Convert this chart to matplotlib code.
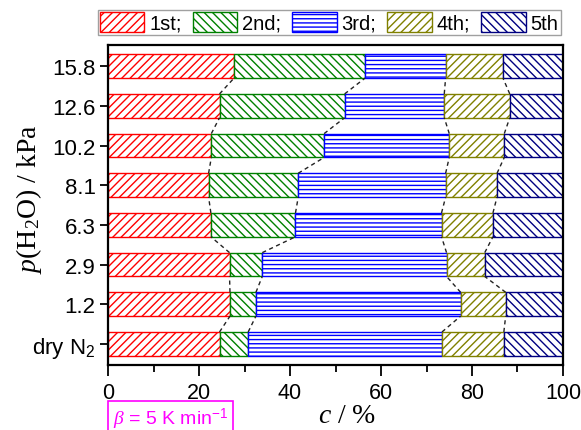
import matplotlib
matplotlib.use("Agg")
import matplotlib.pyplot as plt
import numpy as np

plt.rcParams['font.family'] = ['Liberation Sans', 'DejaVu Sans']
plt.rcParams['mathtext.fontset'] = 'custom'
plt.rcParams['mathtext.rm'] = 'Liberation Serif'
plt.rcParams['mathtext.it'] = 'Liberation Serif:italic'
plt.rcParams['mathtext.sf'] = 'Liberation Sans'
plt.rcParams['hatch.linewidth'] = 1.0

# Water vapour partial pressures (bottom to top)
pressures = ['dry N$_\\mathsf{2}$', '1.2', '2.9', '6.3', '8.1', '10.2', '12.6', '15.8']

# Share of each step (%) per condition, bottom to top
step1 = [24.5, 26.8, 26.7, 22.6, 22.1, 22.7, 24.5, 27.7]
step2 = [6.3, 5.7, 7.2, 18.6, 19.7, 24.8, 27.5, 28.8]
step3 = [42.6, 45.0, 40.5, 32.1, 32.4, 27.5, 21.9, 17.7]
step4 = [13.6, 9.9, 8.4, 11.3, 11.3, 12.1, 14.4, 12.6]
step5 = [13.0, 12.6, 17.2, 15.4, 14.5, 12.9, 11.7, 13.2]

labels = ['1st;', '2nd;', '3rd;', '4th;', '5th']
colors = ['#FF0000', '#008000', '#0000FF', '#808000', '#000080']
hatches = ['////', '\\\\\\\\', '----', '////', '\\\\\\\\']

steps = [step1, step2, step3, step4, step5]
y = np.arange(len(pressures))
bar_h = 0.6

fig = plt.figure(figsize=(5.81, 4.31), dpi=100)
ax = fig.add_axes([0.186, 0.151, 0.783, 0.742])

left = np.zeros(len(pressures))
handles = []
for vals, lab, col, hat in zip(steps, labels, colors, hatches):
    vals = np.array(vals)
    bars = ax.barh(y, vals, height=bar_h, left=left, color='white',
                   edgecolor=col, hatch=hat, linewidth=1.0, label=lab)
    handles.append(bars)
    left = left + vals

# Dashed guides joining the step boundaries of neighbouring rows
cum = np.cumsum(np.array(steps), axis=0)
for b in range(len(steps) - 1):
    xs = cum[b]
    for i in range(len(pressures) - 1):
        ax.plot([xs[i], xs[i + 1]], [y[i] + bar_h / 2, y[i + 1] - bar_h / 2],
                ls=(0, (3, 2.5)), color='#222222', lw=1.0)

ax.set_xlim(0, 100)
ax.set_ylim(-0.53, 7.53)
ax.set_xticks(np.arange(0, 101, 20))
ax.set_xticks(np.arange(10, 100, 20), minor=True)
ax.set_yticks(y)
ax.set_yticklabels(pressures)
ax.tick_params(axis='x', which='major', labelsize=15.5, width=1.3, length=8,
               direction='out', pad=4)
ax.tick_params(axis='y', which='major', labelsize=16, width=1.3, length=6,
               direction='out', pad=3)
ax.tick_params(axis='x', which='minor', width=1.3, length=5, direction='out')
for s in ax.spines.values():
    s.set_linewidth(1.6)

ax.set_xlabel('$c$ / %', fontsize=20, family='Liberation Serif')
ax.xaxis.set_label_coords(0.525, -0.118)
ax.set_ylabel('$p$(H$_2$O) / kPa', fontsize=20, family='Liberation Serif')
ax.yaxis.set_label_coords(-0.14, 0.52)

leg = fig.legend(handles=handles, labels=labels, loc='upper left',
                 bbox_to_anchor=(98 / 581, 1 - 11 / 431), ncol=5, fontsize=14.5,
                 frameon=True, fancybox=False, edgecolor='#888888',
                 handlelength=2.2, handleheight=1.15, handletextpad=0.25,
                 columnspacing=0.55, borderpad=0.1, borderaxespad=0)
leg.get_frame().set_linewidth(1.0)

fig.text(113 / 581, 6 / 431, '$\\beta$ = 5 K min$^{\\mathsf{-1}}$', color='#FF00FF',
         fontsize=14, ha='left', va='baseline',
         bbox=dict(boxstyle='square,pad=0.25', fc='none', ec='#FF00FF', lw=1.2))

fig.savefig('out.png', dpi=100)
